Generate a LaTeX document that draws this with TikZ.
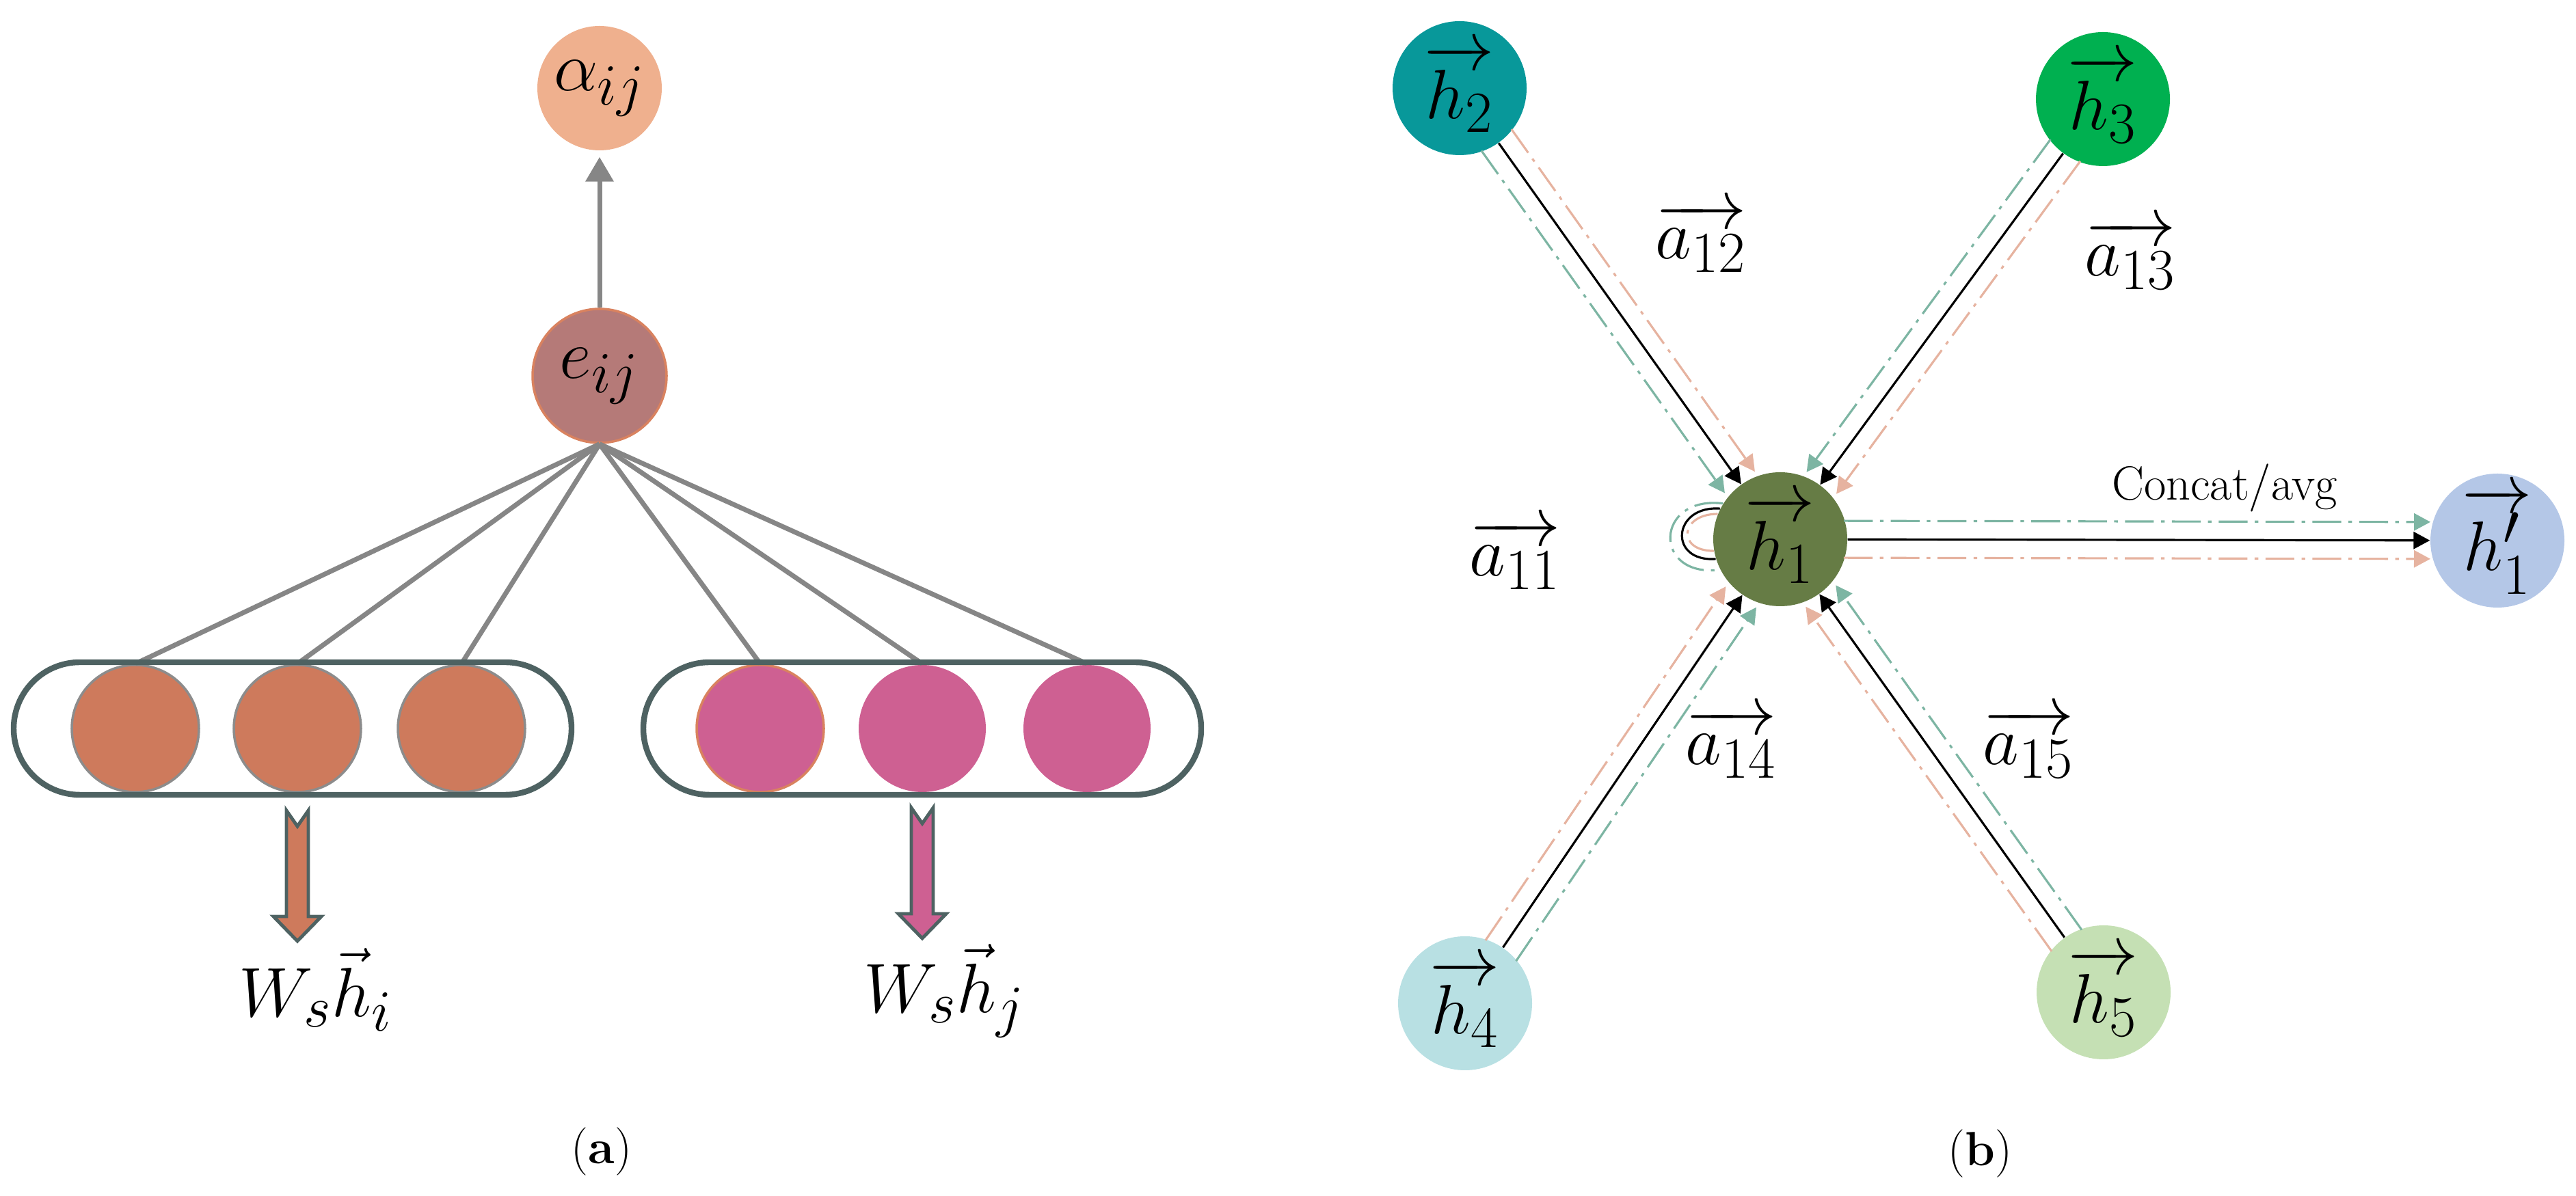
\documentclass[tikz,border=0pt]{standalone}
\usepackage{amsmath}
\usetikzlibrary{arrows.meta,calc,shapes.misc}

\definecolor{alphac}{HTML}{EFB08E}
\definecolor{ec}{HTML}{B57A78}
\definecolor{erim}{HTML}{D9825F}
\definecolor{hic}{HTML}{CE7A5C}
\definecolor{hjc}{HTML}{CE6092}
\definecolor{slate}{HTML}{4E6262}
\definecolor{feedgray}{HTML}{868686}
\definecolor{hone}{HTML}{667C45}
\definecolor{htwo}{HTML}{08989A}
\definecolor{hthree}{HTML}{00B050}
\definecolor{hfour}{HTML}{B8E0E3}
\definecolor{hfive}{HTML}{C5E0B4}
\definecolor{hout}{HTML}{B4C7E7}
\definecolor{headg}{HTML}{7DB5A3}
\definecolor{heado}{HTML}{E6B3A0}

% math labels a bit larger than \Huge
\newcommand{\mlabel}[1]{\scalebox{1.17}{\Huge$#1$}}

\tikzset{
  neuron/.style={circle, inner sep=0pt, minimum size=1.86cm, line width=1pt},
  hnode/.style={circle, inner sep=0pt, minimum size=1.96cm},
  capsule/.style={rounded rectangle, draw=slate, line width=2.4pt,
    minimum width=8.16cm, minimum height=1.94cm, inner sep=0pt},
  feed/.style={draw=feedgray, line width=2pt},
  fatarrow/.style={draw=slate, line width=1.4pt, line join=miter},
  link/.style={draw=black, line width=0.9pt, -{Triangle[width=0.25cm,length=0.24cm]}},
  longdashdot/.style={dash pattern=on 12pt off 3pt on 1.5pt off 3pt},
  dashrun/.style={line width=0.9pt, longdashdot, shorten <=0.93cm, shorten >=1.02cm,
    -{Triangle[width=0.25cm,length=0.24cm]}},
  greenrun/.style={dashrun, draw=headg},
  orangerun/.style={dashrun, draw=heado},
  lbl/.style={inner sep=0pt},
  panel/.style={font=\fontsize{20}{24}\selectfont, inner sep=0pt},
}

\begin{document}
\begin{tikzpicture}
\useasboundingbox (0,0) rectangle (37.68,17.5);

% (a) scoring one pair
\node[neuron, fill=alphac, minimum size=1.82cm] (alpha) at (8.77,16.21) {\mlabel{\alpha_{ij}}};
\node[neuron, fill=ec, draw=erim, minimum size=1.96cm] (e) at (8.77,12.0) {\mlabel{e_{ij}}};
\draw[feed, -{Triangle[width=0.4cm,length=0.36cm]}, shorten >=0.08cm] (e) -- (alpha);

\node[neuron, fill=hic, draw=gray!90] (l1) at (1.98,6.84) {};
\node[neuron, fill=hic, draw=gray!90] (l2) at (4.35,6.84) {};
\node[neuron, fill=hic, draw=gray!90] (l3) at (6.75,6.84) {};
\node[neuron, fill=hjc, draw=erim] (r1) at (11.12,6.84) {};
\node[neuron, fill=hjc] (r2) at (13.49,6.84) {};
\node[neuron, fill=hjc] (r3) at (15.90,6.84) {};

\foreach \n in {l1,l2,l3,r1,r2,r3}
  \draw[feed] (e.south) -- (\n.north);

\node[capsule] (gi) at (4.28,6.84) {};
\node[capsule] (gj) at (13.49,6.84) {};

\coordinate (wi) at (4.35,5.64);
\coordinate (wj) at (13.49,5.68);
\draw[fatarrow, fill=hic] (wi) ++(-0.16,0) -- ++(0.16,-0.23) -- ++(0.16,0.23) -- ++(0,-1.55)
  -- ++(0.19,0) -- ++(-0.35,-0.36) -- ++(-0.35,0.36) -- ++(0.19,0) -- cycle;
\draw[fatarrow, fill=hjc] (wj) ++(-0.16,0) -- ++(0.16,-0.23) -- ++(0.16,0.23) -- ++(0,-1.55)
  -- ++(0.19,0) -- ++(-0.35,-0.36) -- ++(-0.35,0.36) -- ++(0.19,0) -- cycle;

\node[lbl] (whi) at (4.62,3.02) {\mlabel{W_s\vec{h}_i}};
\node[lbl] (whj) at (13.81,3.0) {\mlabel{W_s\vec{h}_j}};
\node[panel] (capa) at (8.80,0.65) {(\textbf{a})};

% (b) aggregation around h1
\node[hnode, fill=hone] (h1) at (26.04,9.61) {\mlabel{\overrightarrow{h_1}}};
\node[hnode, fill=htwo] (h2) at (21.35,16.21) {\mlabel{\overrightarrow{h_2}}};
\node[hnode, fill=hthree] (h3) at (30.76,16.05) {\mlabel{\overrightarrow{h_3}}};
\node[hnode, fill=hfour] (h4) at (21.43,2.82) {\mlabel{\overrightarrow{h_4}}};
\node[hnode, fill=hfive] (h5) at (30.77,2.98) {\mlabel{\overrightarrow{h_5}}};
\node[hnode, fill=hout] (h1p) at (36.53,9.59) {\mlabel{\overrightarrow{h'_1}}};

\foreach \s in {h2,h3,h4,h5} {
  \draw[link] (\s) -- (h1);
  \draw[greenrun] ($(\s)!0.27cm!-90:(h1)$) -- ($(h1)!0.27cm!90:(\s)$);
  \draw[orangerun] ($(\s)!0.27cm!90:(h1)$) -- ($(h1)!0.27cm!-90:(\s)$);
}

\draw[link] (h1) -- (h1p);
\draw[greenrun, shorten >=0.98cm] ($(h1)!0.27cm!90:(h1p)$) -- ($(h1p)!0.27cm!-90:(h1)$);
\draw[orangerun, shorten >=0.98cm] ($(h1)!0.27cm!-90:(h1p)$) -- ($(h1p)!0.27cm!90:(h1)$);

% self attention
\draw[line width=0.9pt] (h1.153) .. controls +(-0.7,0.05) and +(-0.7,-0.05) .. (h1.197);
\draw[line width=0.9pt, headg, longdashdot] (h1.148) .. controls +(-1.0,0.12) and +(-1.0,-0.12) .. (h1.207);
\draw[line width=0.9pt, heado, longdashdot] (h1.158) .. controls +(-0.55,0) and +(-0.55,0) .. (h1.190);

\node[lbl] (a11) at (22.16,9.38) {\mlabel{\overrightarrow{a_{11}}}};
\node[lbl] (a12) at (24.88,14.02) {\mlabel{\overrightarrow{a_{12}}}};
\node[lbl] (a13) at (31.16,13.77) {\mlabel{\overrightarrow{a_{13}}}};
\node[lbl] (a14) at (25.32,6.62) {\mlabel{\overrightarrow{a_{14}}}};
\node[lbl] (a15) at (29.67,6.62) {\mlabel{\overrightarrow{a_{15}}}};
\node[panel] (cat) at (32.54,10.36) {Concat/avg};
\node[panel] (capb) at (28.96,0.62) {(\textbf{b})};
\end{tikzpicture}
\end{document}
